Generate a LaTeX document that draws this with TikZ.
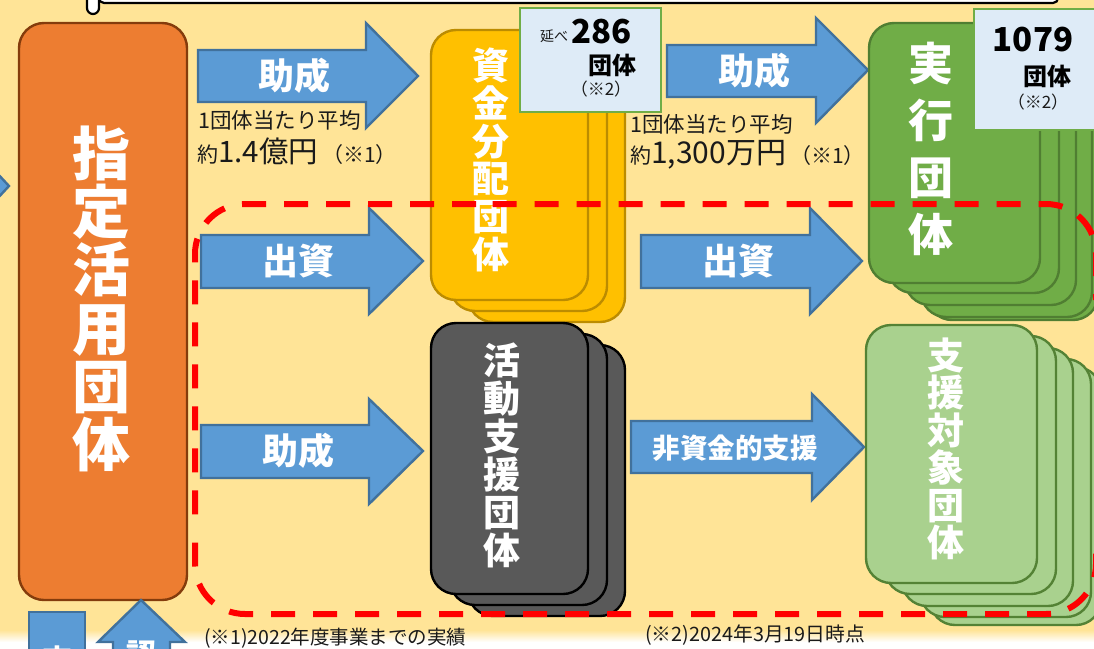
\documentclass[tikz,border=0pt]{standalone}
\usepackage{fontspec}
\setmainfont{Noto Sans CJK JP}
\usetikzlibrary{calc}
\definecolor{bgc}{HTML}{FFE497}
\definecolor{arrowf}{HTML}{5B9BD5}
\definecolor{arrowd}{HTML}{41719C}
\definecolor{orangef}{HTML}{ED7D31}
\definecolor{oranged}{HTML}{843C0C}
\definecolor{yellowf}{HTML}{FFC000}
\definecolor{yellowd}{HTML}{BC8C00}
\definecolor{greenf}{HTML}{70AD47}
\definecolor{greend}{HTML}{507E32}
\definecolor{lgreenf}{HTML}{A9D18E}
\definecolor{lgreend}{HTML}{548235}
\definecolor{darkf}{HTML}{595959}
\definecolor{infof}{HTML}{DEEBF7}
\definecolor{inktext}{HTML}{1A1A1A}
\tikzset{
  card/.style={rectangle,rounded corners=25pt,line width=2.4pt,inner sep=0pt,outer sep=0pt,anchor=north west},
  orangecard/.style={card,draw=oranged,fill=orangef},
  yellowcard/.style={card,draw=yellowd,fill=yellowf},
  greencard/.style={card,draw=greend,fill=greenf},
  lgreencard/.style={card,draw=lgreend,fill=lgreenf},
  darkcard/.style={card,draw=black,fill=darkf},
  infobox/.style={rectangle,draw=greenf,fill=infof,line width=2.4pt,inner sep=0pt,outer sep=0pt,anchor=north west},
  blockarrow/.style={draw=arrowd,fill=arrowf,line width=2.4pt,line join=miter},
  arrowlabel/.style={text=white,font=\fontsize{36}{36}\selectfont\bfseries,inner sep=0pt},
  vtext/.style={text=white,align=center,inner sep=0pt},
  note/.style={text=inktext,inner sep=0pt,anchor=west},
  redframe/.style={draw=red,line width=6pt,dash pattern=on 24pt off 18pt},
}
\newcommand{\acard}[6]{\node[#1,minimum width={(#5-#3)*1pt},minimum height={(#6-#4)*1pt}] (#2) at (#3,#4) {};}
\newcommand{\rarrow}[8]{\draw[blockarrow] (#1,#3) -- (#2,#3) -- (#2,#4) -- (#5,#6) -- (#2,#7) -- (#2,#8) -- (#1,#8) -- cycle;}
\begin{document}
\begin{tikzpicture}[x=1pt,y=-1pt]
\useasboundingbox (0,0) rectangle (1094,648);
\clip (0,0) rectangle (1094,648);
\fill[bgc] (0,0) rectangle (1094,630);
\shade[top color=bgc,bottom color=white] (0,630) rectangle (1094,642);
\fill[white] (0,642) rectangle (1094,648);
% top frame
\draw[black,fill=white,line width=2.2pt,rounded corners=6pt] (87,-20) rectangle (99,14);
\draw[black,fill=white,line width=2.2pt,rounded corners=5pt] (99,-20) rectangle (1058,3);
% left arrow
\draw[blockarrow] (-4,172) -- (9,186) -- (-4,200) -- cycle;
% orange
\acard{orangecard}{shitei}{19}{23}{187}{600}
\node[vtext,font=\fontsize{58}{58.3}\selectfont\bfseries] (shiteit) at (101,299) {指\\定\\活\\用\\団\\体};
% arrows
\rarrow{198}{366}{50}{23}{418}{76}{128}{102}
\node[arrowlabel] (a1) at (294,76) {助成};
\rarrow{667}{816}{45}{18}{868}{70}{123}{97}
\node[arrowlabel] (a2) at (754,71) {助成};
\rarrow{201}{369}{235}{208}{423}{261}{314}{288}
\node[arrowlabel] (a3) at (298,261) {出資};
\rarrow{641}{810}{235}{208}{862}{261}{314}{288}
\node[arrowlabel] (a4) at (738,261) {出資};
\rarrow{201}{369}{425}{399}{423}{451}{504}{478}
\node[arrowlabel] (a5) at (298,451) {助成};
\rarrow{631}{812}{421}{394}{864}{447}{500}{473}
\node[arrowlabel,font=\fontsize{27.5}{27.5}\selectfont\bfseries] (a6) at (735,448) {非資金的支援};
% yellow stack
\acard{yellowcard}{y3}{468}{52}{625}{322}
\acard{yellowcard}{y2}{450}{41}{607}{311}
\acard{yellowcard}{y1}{431}{30}{588}{300}
\node[vtext,font=\fontsize{37}{37.8}\selectfont\bfseries] (yt) at (491,160) {資\\金\\分\\配\\団\\体};
% dark stack
\acard{darkcard}{d3}{468}{345}{625}{616}
\acard{darkcard}{d2}{450}{334}{607}{605}
\acard{darkcard}{d1}{431}{323}{588}{594}
\node[vtext,font=\fontsize{37}{38}\selectfont\bfseries] (dt) at (502,455) {活\\動\\支\\援\\団\\体};
% green stack
\acard{greencard}{g5}{927}{63}{1098}{320}
\acard{greencard}{g4}{921}{59}{1092}{317}
\acard{greencard}{g3}{905}{47}{1076}{305}
\acard{greencard}{g2}{888}{34}{1059}{293}
\acard{greencard}{g1}{869}{23}{1040}{283}
\node[vtext,font=\fontsize{45}{57}\selectfont\bfseries] (gt) at (931,149) {実\\行\\団\\体};
% light green stack
\acard{lgreencard}{l5}{930}{367}{1101}{625}
\acard{lgreencard}{l4}{920}{359}{1091}{617}
\acard{lgreencard}{l3}{902}{348}{1073}{606}
\acard{lgreencard}{l2}{885}{336}{1056}{594}
\acard{lgreencard}{l1}{866}{325}{1037}{583}
\node[vtext,font=\fontsize{37}{37.5}\selectfont\bfseries] (lt) at (946,449) {支\\援\\対\\象\\団\\体};
% info boxes
\acard{infobox}{i1}{520}{8}{661}{112}
\node[note,font=\fontsize{14}{14}\selectfont] (i1a) at (540,36) {延べ};
\node[note,font=\fontsize{33}{33}\selectfont\bfseries,text=black] (i1b) at (571,32) {286};
\node[note,font=\fontsize{24}{24}\selectfont\bfseries,text=black] (i1c) at (588,65) {団体};
\node[font=\fontsize{17}{17}\selectfont,text=inktext,inner sep=0pt] (i1d) at (601,89) {（※2）};
\acard{infobox}{i2}{974}{9}{1110}{130}
\node[font=\fontsize{33}{33}\selectfont\bfseries,text=black,inner sep=0pt] (i2b) at (1033,40) {1079};
\node[font=\fontsize{24}{24}\selectfont\bfseries,text=black,inner sep=0pt] (i2c) at (1047,76) {団体};
\node[font=\fontsize{17}{17}\selectfont,text=inktext,inner sep=0pt] (i2d) at (1038,102) {（※2）};
% notes
\node[note,font=\fontsize{21.5}{21.5}\selectfont] (n1) at (198,120) {1団体当たり平均};
\node[note,font=\fontsize{21}{21}\selectfont] (n2) at (197,151) {約{\fontsize{29.5}{29.5}\selectfont 1.4億円}\hspace{4pt}（※1）};
\node[note,font=\fontsize{21.5}{21.5}\selectfont] (n3) at (630,124) {1団体当たり平均};
\node[note,font=\fontsize{21}{21}\selectfont] (n4) at (630,155) {約{\fontsize{30}{30}\selectfont 1,300万円}\hspace{4pt}（※1）};
% red frame
\coordinate (fa) at (492.7,204);
\coordinate (fb) at (1096,300);
\draw[redframe] (fa) -- (1046,204) .. controls (1073.6,204) and (1096,226.4) .. (1096,254) -- (fb);
\coordinate (fc) at (1096,553.5);
\coordinate (fd) at (195,540);
\draw[redframe] (fc) -- (1096,564) .. controls (1096,591.6) and (1073.6,614) .. (1046,614) -- (245,614) .. controls (217.4,614) and (195,591.6) .. (195,564) -- (fd);
\coordinate (fe) at (476,204);
\coordinate (ff) at (195,525);
\draw[redframe] (fe) -- (245,204) .. controls (217.4,204) and (195,226.4) .. (195,254) -- (ff);
% bottom
\node[rectangle,draw=arrowd,fill=arrowf,line width=2.4pt,inner sep=0pt,outer sep=0pt,anchor=north west,minimum width=56pt,minimum height=60pt] (b1) at (29,612) {};
\node[text=white,font=\fontsize{30}{30}\selectfont\bfseries,inner sep=0pt] (b1t) at (57,660) {交};
\draw[blockarrow] (141,600) -- (185,642) -- (170,642) -- (170,660) -- (113,660) -- (113,642) -- (98,642) -- cycle;
\node[text=white,font=\fontsize{30}{30}\selectfont\bfseries,inner sep=0pt] (b2t) at (141,654) {認};
\node[note,font=\fontsize{19.5}{19.5}\selectfont] (f1) at (204,638) {(※1)2022年度事業までの実績};
\node[note,font=\fontsize{19.8}{19.8}\selectfont] (f2) at (645,635) {(※2)2024年3月19日時点};
\end{tikzpicture}
\end{document}
